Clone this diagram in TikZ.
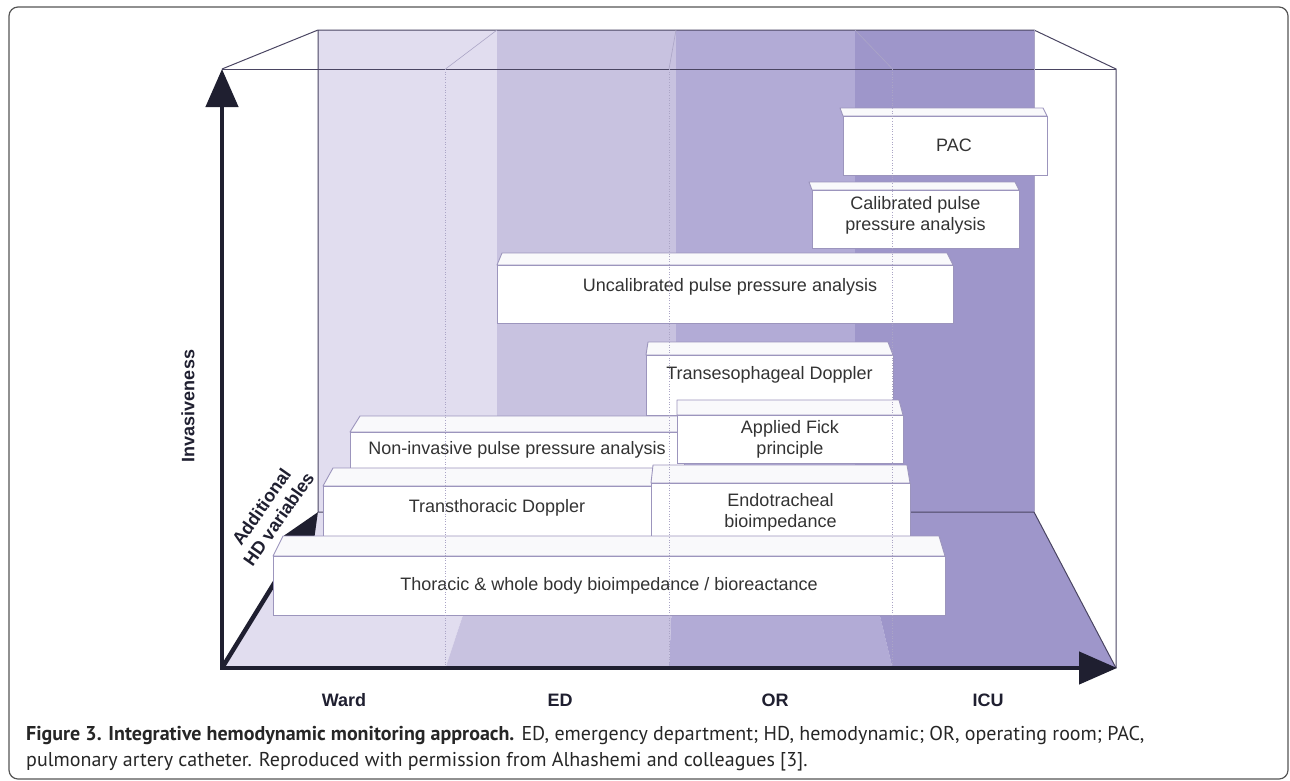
\documentclass[tikz,border=0pt]{standalone}
\usepackage{fontspec}
\setmainfont{PT Sans}
\newfontfamily\arialfont{Liberation Sans}
\usetikzlibrary{arrows.meta}

\definecolor{wardc}{HTML}{E1DDEF}
\definecolor{edc}{HTML}{C8C2E0}
\definecolor{orc}{HTML}{B2ABD6}
\definecolor{icuc}{HTML}{9E96CA}
\definecolor{axisc}{HTML}{1F1F30}
\definecolor{cubec}{HTML}{4A4562}
\definecolor{gridc}{HTML}{ABA5C6}
\definecolor{boxc}{HTML}{9C95BD}
\definecolor{textc}{HTML}{333333}
\definecolor{framec}{HTML}{555555}

\tikzset{
  axisline/.style={line width=4.5pt, draw=axisc},
  axistip/.style={-{Triangle[length=38pt,width=32pt]}},
  cubeline/.style={draw=cubec, line width=1pt},
  gridline/.style={draw=gridc, line width=0.6pt},
  boxtop/.style={fill=white!94!boxc, draw=boxc, line width=0.9pt, line join=round},
  boxfront/.style={fill=white, draw=boxc, line width=0.9pt},
  boxtext/.style={align=center, text=textc},
  axislabel/.style={font=\arialfont\bfseries\fontsize{18}{21}\selectfont, text=axisc, align=center}
}

% one white slab: options, left, right, back y, top y, bottom y, back left, back right, text
\newcommand{\hdbox}[9]{%
  \filldraw[boxtop] (#2,#5) -- (#7,#4) -- (#8,#4) -- (#3,#5) -- cycle;
  \filldraw[boxfront] (#2,#5) rectangle (#3,#6);
  \node[boxtext, #1] at ({(#2+#3)/2},{(#5+#6)/2}) {#9};
}

\begin{document}
\begin{tikzpicture}[x=1pt, y=-1pt, font=\arialfont\fontsize{18}{21}\selectfont]
\useasboundingbox (0,0) rectangle (1290,780);
\draw[framec, line width=1.2pt, rounded corners=9pt] (9,7) rectangle (1288,779);

\coordinate (o) at (222,668);
\coordinate (ytip) at (222,69);
\coordinate (xtip) at (1117,668);
\coordinate (ztip) at (318,512);

% the four settings, back wall and floor
\foreach \i/\c in {0/wardc,1/edc,2/orc,3/icuc}{
  \fill[\c] ({318+179*\i},30) -- ({497+179*\i},30) -- ({497+179*\i},512)
    -- ({445.5+223.5*\i},668) -- ({222+223.5*\i},668) -- ({318+179*\i},512) -- cycle;
}
\draw[cubeline] (ytip) -- (318,30) -- (1034,30) -- (1116,69) -- (1116,668);
\draw[cubeline] (ytip) -- (1116,69);
\draw[cubeline] (318,30) -- (318,512) -- (1034,512) -- (1116,668);
\draw[gridline] (1034,30) -- (1034,512);
\foreach \i in {1,2,3}
  \draw[gridline] ({222+223.5*\i},69) -- ({318+179*\i},30);

\draw[axisline, axistip] (o) -- (ztip);

% monitoring techniques
\hdbox{name=pac, xshift=9pt}{843}{1047}{108}{116}{175}{840}{1043}{PAC}
\hdbox{name=cal, yshift=4pt}{812}{1019}{182}{190}{248}{809}{1015}{Calibrated pulse\\pressure analysis}
\hdbox{name=uncal, xshift=5pt, yshift=7pt}{497}{953}{253}{265}{323}{502}{947}{Uncalibrated pulse pressure analysis}
\hdbox{name=tee, yshift=10pt}{646}{893}{342}{355}{415}{648}{888}{Transesophageal Doppler}
\hdbox{name=nipp}{350}{684}{416}{432}{468}{360}{680}{Non-invasive pulse pressure analysis}
\hdbox{name=fick}{677}{903}{400}{415}{463}{677}{899}{Applied Fick\\principle}
\hdbox{name=ttd, yshift=3pt}{323}{671}{468}{486}{536}{333}{667}{Transthoracic Doppler}
\hdbox{name=eti}{651}{910}{465}{483}{542}{653}{907}{Endotracheal\\bioimpedance}
\hdbox{name=tb}{273}{945}{536}{556}{615}{283}{939}{Thoracic \& whole body bioimpedance / bioreactance}

\foreach \i in {1,2,3}
  \draw[gridline, dotted] ({222+223.5*\i},69) -- ({222+223.5*\i},668);

\draw[axisline, {Triangle[length=38pt,width=32pt]}-{Triangle[length=38pt,width=32pt]}] (ytip) -- (o) -- (xtip);

\node[axislabel] (ward) at (344,700) {Ward};
\node[axislabel] (ed) at (560,700) {ED};
\node[axislabel] (or) at (775,700) {OR};
\node[axislabel] (icu) at (988,700) {ICU};
\node[axislabel, rotate=90] (inv) at (188,406) {Invasiveness};
\node[axislabel, rotate=55] (hdvar) at (270,513) {Additional\\HD variables};

\node[anchor=north west, align=left, inner sep=0pt, text=black!85,
  font=\fontsize{20}{26}\selectfont] (caption) at (26,726)
  {\textbf{Figure 3. Integrative hemodynamic monitoring approach.} ED, emergency department; HD, hemodynamic; OR, operating room; PAC,\\
   pulmonary artery catheter. Reproduced with permission from Alhashemi and colleagues [3].};
\end{tikzpicture}
\end{document}
